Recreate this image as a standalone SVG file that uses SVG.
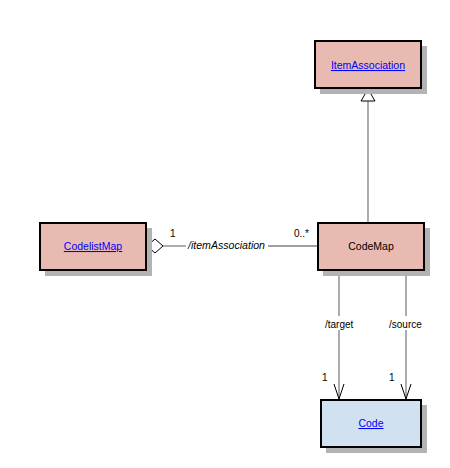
<svg xmlns="http://www.w3.org/2000/svg" width="450" height="468" viewBox="0 0 450 468">
<style>
.shadow{fill:#b3b3b3}
.cls{fill:#e8bab2;stroke:#000;stroke-width:2}
.blue{fill:#d0e2f2;stroke:#000;stroke-width:2}
.link{font-family:"Liberation Sans",Arial,sans-serif;font-size:10.5px;fill:#0000ff;text-decoration:underline;text-anchor:middle}
.name{font-family:"Liberation Sans",Arial,sans-serif;font-size:10.5px;fill:#000;text-anchor:middle}
.lbl{font-family:"Liberation Sans",Arial,sans-serif;font-size:10px;fill:#000}
.edge{stroke:#808080;stroke-width:1.3;fill:none}
</style>
<rect width="450" height="468" fill="#fff"/>
<g id="connectors">
<line class="edge" x1="368" y1="101" x2="368" y2="222"/>
<polygon points="368,89 361,101 375,101" fill="#fff" stroke="#000" stroke-width="1"/>
<line class="edge" x1="163" y1="246" x2="186" y2="246"/>
<line class="edge" x1="268" y1="246" x2="317" y2="246"/>
<polygon points="147,246 155,239 163,246 155,253" fill="#fff" stroke="#000" stroke-width="1"/>
<text class="lbl" x="188" y="249" font-style="italic" textLength="77" lengthAdjust="spacingAndGlyphs">/itemAssociation</text>
<text class="lbl" x="170" y="237">1</text>
<text class="lbl" x="294" y="237">0..*</text>
<line class="edge" x1="339" y1="270" x2="339" y2="316"/>
<line class="edge" x1="339" y1="330" x2="339" y2="399"/>
<polyline points="334,384 339,399 344,384" fill="none" stroke="#000" stroke-width="1"/>
<text class="lbl" x="325" y="328">/target</text>
<text class="lbl" x="322" y="381">1</text>
<line class="edge" x1="406" y1="270" x2="406" y2="316"/>
<line class="edge" x1="406" y1="330" x2="406" y2="399"/>
<polyline points="401,384 406,399 411,384" fill="none" stroke="#000" stroke-width="1"/>
<text class="lbl" x="389" y="328">/source</text>
<text class="lbl" x="389" y="381">1</text>
</g>
<g id="ItemAssociation">
<rect class="shadow" x="320" y="46" width="107" height="48"/>
<rect class="cls" x="315" y="41" width="106" height="47"/>
<text class="link" x="368" y="69">ItemAssociation</text>
</g>
<g id="CodelistMap">
<rect class="shadow" x="45" y="228" width="107" height="48"/>
<rect class="cls" x="40" y="223" width="106" height="47"/>
<text class="link" x="93" y="250">CodelistMap</text>
</g>
<g id="CodeMap">
<rect class="shadow" x="323" y="228" width="107" height="48"/>
<rect class="cls" x="318" y="223" width="106" height="47"/>
<text class="name" x="371" y="250">CodeMap</text>
</g>
<g id="Code">
<rect class="shadow" x="326" y="405" width="101" height="48"/>
<rect class="blue" x="321" y="400" width="100" height="47"/>
<text class="link" x="371" y="427">Code</text>
</g>
</svg>
